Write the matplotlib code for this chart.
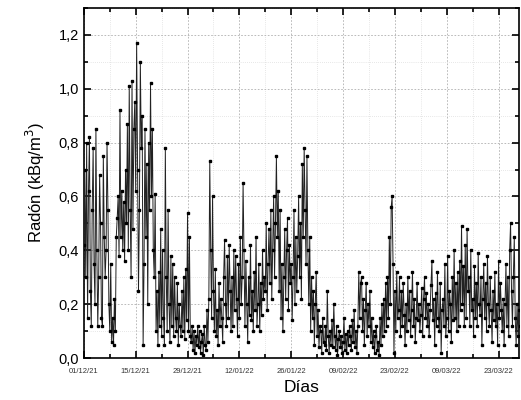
import numpy as np
import pandas as pd
import matplotlib
matplotlib.use("Agg")
import matplotlib.pyplot as plt
import matplotlib.dates as mdates
from matplotlib.ticker import MultipleLocator, FuncFormatter, FixedLocator

plt.rcParams['font.family'] = ['Liberation Sans', 'DejaVu Sans']

# radon, kBq/m3, one value every 6 h starting 01/12/21 00:00
radon_daily = [
    [0.42, 0.70, 0.30, 0.80], [0.15, 0.62, 0.82, 0.25], [0.12, 0.55, 0.78, 0.35],
    [0.20, 0.85, 0.40, 0.12], [0.30, 0.68, 0.50, 0.15], [0.12, 0.75, 0.45, 0.30],
    [0.40, 0.80, 0.55, 0.20], [0.10, 0.35, 0.06, 0.15], [0.05, 0.22, 0.10, 0.45],
    [0.52, 0.60, 0.38, 0.92], [0.45, 0.62, 0.40, 0.58], [0.36, 0.70, 0.50, 0.87],
    [0.40, 1.01, 0.55, 0.30], [1.03, 0.48, 0.85, 0.95], [0.62, 1.17, 0.70, 0.25],
    [0.55, 1.10, 0.78, 0.90], [0.05, 0.35, 0.85, 0.45], [0.72, 0.20, 0.80, 0.55],
    [1.02, 0.60, 0.85, 0.40], [0.30, 0.61, 0.10, 0.25], [0.05, 0.32, 0.12, 0.48],
    [0.08, 0.40, 0.15, 0.05], [0.78, 0.30, 0.10, 0.55], [0.20, 0.06, 0.38, 0.12],
    [0.35, 0.08, 0.30, 0.15], [0.10, 0.28, 0.05, 0.20], [0.12, 0.08, 0.25, 0.10],
    [0.30, 0.07, 0.33, 0.14], [0.54, 0.10, 0.45, 0.08], [0.06, 0.12, 0.03, 0.10],
    [0.02, 0.08, 0.05, 0.12], [0.04, 0.10, 0.02, 0.06], [0.09, 0.01, 0.12, 0.05],
    [0.03, 0.18, 0.06, 0.22], [0.73, 0.40, 0.15, 0.60], [0.25, 0.10, 0.33, 0.08],
    [0.18, 0.05, 0.28, 0.12], [0.22, 0.15, 0.06, 0.30], [0.44, 0.20, 0.12, 0.38],
    [0.15, 0.42, 0.25, 0.10], [0.30, 0.12, 0.40, 0.18], [0.38, 0.22, 0.08, 0.35],
    [0.15, 0.45, 0.20, 0.30], [0.65, 0.40, 0.12, 0.36], [0.20, 0.06, 0.30, 0.16],
    [0.42, 0.14, 0.25, 0.10], [0.32, 0.18, 0.45, 0.12], [0.20, 0.35, 0.10, 0.28],
    [0.16, 0.40, 0.22, 0.30], [0.25, 0.50, 0.18, 0.35], [0.48, 0.28, 0.55, 0.22],
    [0.40, 0.60, 0.30, 0.50], [0.75, 0.45, 0.62, 0.25], [0.55, 0.15, 0.35, 0.10],
    [0.30, 0.48, 0.22, 0.40], [0.52, 0.18, 0.42, 0.28], [0.35, 0.14, 0.30, 0.55],
    [0.20, 0.45, 0.25, 0.38], [0.60, 0.30, 0.50, 0.22], [0.72, 0.45, 0.78, 0.55],
    [0.35, 0.75, 0.40, 0.20], [0.45, 0.10, 0.30, 0.15], [0.25, 0.05, 0.20, 0.32],
    [0.08, 0.18, 0.04, 0.12], [0.10, 0.02, 0.15, 0.06], [0.05, 0.12, 0.03, 0.25],
    [0.08, 0.02, 0.10, 0.05], [0.14, 0.04, 0.20, 0.08], [0.03, 0.12, 0.01, 0.07],
    [0.10, 0.04, 0.08, 0.02], [0.06, 0.15, 0.03, 0.09], [0.02, 0.10, 0.05, 0.12],
    [0.08, 0.03, 0.14, 0.06], [0.18, 0.04, 0.10, 0.02], [0.12, 0.32, 0.15, 0.28],
    [0.30, 0.10, 0.22, 0.05], [0.18, 0.28, 0.08, 0.20], [0.12, 0.25, 0.06, 0.15],
    [0.04, 0.10, 0.02, 0.08], [0.12, 0.03, 0.06, 0.01], [0.15, 0.05, 0.20, 0.08],
    [0.22, 0.10, 0.28, 0.12], [0.30, 0.15, 0.45, 0.20], [0.56, 0.60, 0.35, 0.02],
    [0.25, 0.10, 0.32, 0.15], [0.18, 0.30, 0.08, 0.25], [0.12, 0.28, 0.16, 0.05],
    [0.20, 0.10, 0.30, 0.14], [0.25, 0.08, 0.18, 0.32], [0.12, 0.22, 0.06, 0.15],
    [0.28, 0.14, 0.20, 0.10], [0.16, 0.26, 0.08, 0.22], [0.30, 0.15, 0.24, 0.12],
    [0.20, 0.08, 0.18, 0.27], [0.36, 0.14, 0.22, 0.05], [0.24, 0.12, 0.32, 0.15],
    [0.10, 0.28, 0.02, 0.18], [0.22, 0.12, 0.35, 0.08], [0.15, 0.38, 0.10, 0.25],
    [0.20, 0.06, 0.30, 0.14], [0.40, 0.15, 0.28, 0.10], [0.32, 0.12, 0.36, 0.18],
    [0.49, 0.20, 0.34, 0.12], [0.42, 0.15, 0.48, 0.25], [0.30, 0.12, 0.40, 0.18],
    [0.22, 0.08, 0.34, 0.15], [0.28, 0.12, 0.39, 0.20], [0.16, 0.30, 0.05, 0.22],
    [0.35, 0.15, 0.28, 0.10], [0.38, 0.20, 0.12, 0.30], [0.18, 0.06, 0.25, 0.14],
    [0.32, 0.12, 0.20, 0.05], [0.36, 0.15, 0.28, 0.18], [0.10, 0.22, 0.05, 0.20],
    [0.35, 0.12, 0.30, 0.08], [0.40, 0.50, 0.25, 0.12], [0.30, 0.45, 0.15, 0.05],
    [0.20, 0.08, 0.18, 0.12],
]
start = "2021-12-01"
radon = [v for day in radon_daily for v in day]
fechas = pd.date_range(start, periods=len(radon), freq="6h")

major_dates = pd.date_range(start, periods=9, freq="14D")
minor_dates = pd.date_range(start, periods=18, freq="7D")

fig = plt.figure(figsize=(5.21, 4.0), dpi=100)
ax = fig.add_axes([0.161, 0.105, 0.835, 0.875])

ax.plot(fechas, radon, color="#222222", lw=0.7, marker="s", ms=2.0,
        mfc="black", mec="black", zorder=3)

t0 = pd.Timestamp(start)
ax.set_xlim(t0, t0 + pd.Timedelta(days=117.5))
ax.set_ylim(0, 1.3)

ax.xaxis.set_major_locator(FixedLocator(mdates.date2num(major_dates)))
ax.xaxis.set_minor_locator(FixedLocator(mdates.date2num(minor_dates)))
ax.xaxis.set_major_formatter(mdates.DateFormatter("%d/%m/%y"))
ax.yaxis.set_major_locator(MultipleLocator(0.2))
ax.yaxis.set_minor_locator(MultipleLocator(0.1))
ax.yaxis.set_major_formatter(FuncFormatter(lambda v, p: f"{v:.1f}".replace(".", ",")))

ax.grid(which="major", ls=(0, (2, 2)), color="#b0b0b0", lw=0.6)
ax.grid(which="minor", ls=(0, (1, 2)), color="#d0d0d0", lw=0.5)
ax.set_axisbelow(True)

ax.tick_params(which="both", direction="in", top=True, right=True, width=1.2)
ax.tick_params(which="major", length=5)
ax.tick_params(which="minor", length=3)
ax.tick_params(axis="x", labelsize=5.5, pad=7, labelcolor="#333333")
ax.tick_params(axis="y", labelsize=10.5)
for s in ax.spines.values():
    s.set_linewidth(1.2)

ax.set_ylabel("Radón (kBq/m$^3$)", fontsize=12, labelpad=8)
ax.set_xlabel("Días", fontsize=12.5, labelpad=4)

fig.savefig("out.png", dpi=100)
